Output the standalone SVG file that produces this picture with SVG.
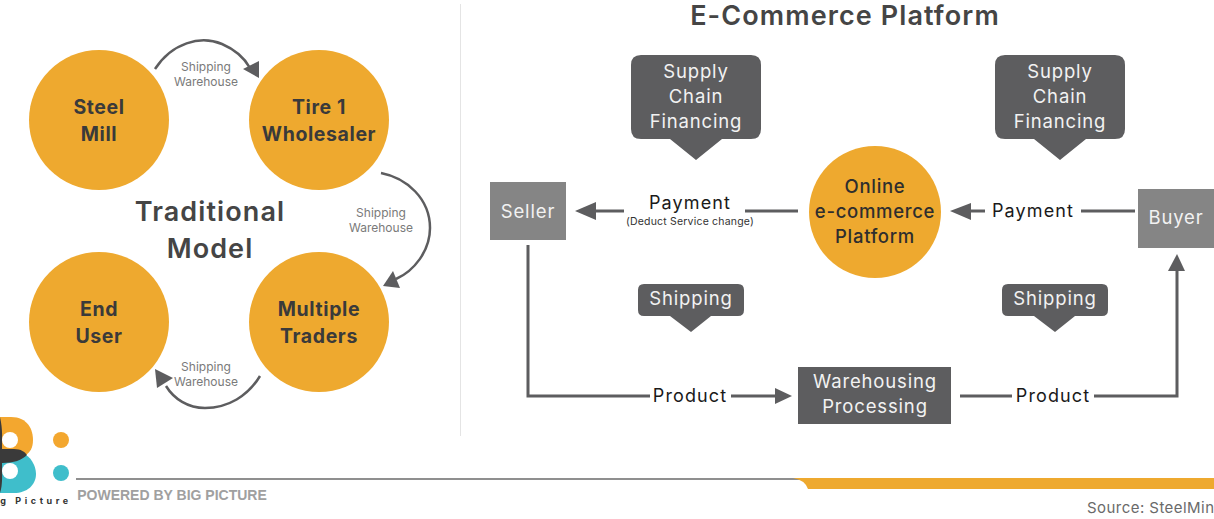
<svg xmlns="http://www.w3.org/2000/svg" width="1214" height="519" viewBox="0 0 1214 519">
<style>
text{font-family:Inter,"Open Sans","Liberation Sans",sans-serif;text-anchor:middle}
.o{fill:#eea92f}
.b{font-size:19.500px;font-weight:700;fill:#3a3a3a;letter-spacing:.6px}
.s{font-size:12px;fill:#7a7a7a}
.w{font-size:18.500px;fill:#f2f2f2;letter-spacing:.85px}
.k{font-size:18px;fill:#1a1a1a;letter-spacing:1.1px}
.t{font-size:27px;font-weight:600;fill:#454545;letter-spacing:1.1px}
.e{font-size:18.500px;font-weight:500;fill:#2e2e2e;letter-spacing:.7px}
.d{fill:#5d5d5f}
.l{fill:none;stroke:#5d5d5f;stroke-width:3}
.c{fill:none;stroke:#5d5d5f;stroke-width:2.500}
.a{fill:#5d5d5f}
</style>
<rect width="1214" height="519" fill="#fff"/>
<line x1="460.500" y1="4" x2="460.500" y2="436" stroke="#e4e4e4" stroke-width="1"/>
<g id="connectors">
<path class="c" d="M155 69C172 43 200 35 222 44C236 50 245 59 250 68"/>
<polygon class="a" points="259,61 259,78 243,69"/>
<path class="c" d="M381 173C407 178 430 199 430 228C430 251 414 271 396 279"/>
<polygon class="a" points="383,286 400,288 393,271"/>
<path class="c" d="M260 376C248 396 228 408 205 408C188 408 174 399 166 386"/>
<polygon class="a" points="155,369 173,378 157,388"/>
<path class="l" d="M798 211H745"/><path class="l" d="M624 211H592"/>
<polygon class="a" points="575,211 596,202 596,220"/>
<path class="l" d="M1135 211H1081"/><path class="l" d="M985 211H966"/>
<polygon class="a" points="950,211 971,203 971,220"/>
<path class="l" d="M528 245V396H650"/><path class="l" d="M731 396H775"/>
<polygon class="a" points="792,396 775,388 775,404"/>
<path class="l" d="M960 396H1012"/><path class="l" d="M1094 396H1177V270"/>
<polygon class="a" points="1177,254 1168,271 1185,271"/>
</g>
<g id="steel-mill"><circle class="o" cx="99" cy="120" r="70"/><text class="b" x="99" y="114">Steel</text><text class="b" x="99" y="141">Mill</text></g>
<g id="tire-1"><circle class="o" cx="319" cy="120" r="70"/><text class="b" x="319" y="114">Tire 1</text><text class="b" x="319" y="141">Wholesaler</text></g>
<g id="multiple-traders"><circle class="o" cx="319" cy="322" r="70"/><text class="b" x="319" y="316">Multiple</text><text class="b" x="319" y="343">Traders</text></g>
<g id="end-user"><circle class="o" cx="99" cy="322" r="70"/><text class="b" x="99" y="316">End</text><text class="b" x="99" y="343">User</text></g>
<g id="traditional-model"><text class="t" x="210" y="221">Traditional</text><text class="t" x="210" y="258">Model</text></g>
<g id="ship1"><text class="s" x="206" y="71">Shipping</text><text class="s" x="206" y="86">Warehouse</text></g>
<g id="ship2"><text class="s" x="381" y="217">Shipping</text><text class="s" x="381" y="232">Warehouse</text></g>
<g id="ship3"><text class="s" x="206" y="371">Shipping</text><text class="s" x="206" y="386">Warehouse</text></g>
<text class="t" x="845" y="25">E-Commerce Platform</text>
<g id="seller"><rect x="490" y="182" width="76" height="58" fill="#858585"/><text class="w" x="528" y="218">Seller</text></g>
<g id="buyer"><rect x="1138" y="189" width="76" height="59" fill="#858585"/><text class="w" x="1176" y="224">Buyer</text></g>
<g id="online"><circle class="o" cx="875" cy="212" r="66"/><text class="e" x="875" y="193">Online</text><text class="e" x="875" y="218">e-commerce</text><text class="e" x="875" y="243">Platform</text></g>
<g id="scf1"><path class="d" d="M641 55H751Q761 55 761 65V129Q761 139 751 139H722L696 160L670 139H641Q631 139 631 129V65Q631 55 641 55Z"/><text class="w" x="696" y="78">Supply</text><text class="w" x="696" y="103">Chain</text><text class="w" x="696" y="128">Financing</text></g>
<g id="scf2"><path class="d" d="M1005 55H1115Q1125 55 1125 65V129Q1125 139 1115 139H1086L1060 160L1034 139H1005Q995 139 995 129V65Q995 55 1005 55Z"/><text class="w" x="1060" y="78">Supply</text><text class="w" x="1060" y="103">Chain</text><text class="w" x="1060" y="128">Financing</text></g>
<g id="ship-a"><path class="d" d="M644 284H738Q744 284 744 290V310Q744 316 738 316H711L691 332L670 316H644Q638 316 638 310V290Q638 284 644 284Z"/><text class="w" x="691" y="305">Shipping</text></g>
<g id="ship-b"><path class="d" d="M1008 284H1102Q1108 284 1108 290V310Q1108 316 1102 316H1075L1055 332L1034 316H1008Q1002 316 1002 310V290Q1002 284 1008 284Z"/><text class="w" x="1055" y="305">Shipping</text></g>
<g id="warehousing"><rect class="d" x="798" y="367" width="153" height="57"/><text class="w" x="875" y="388">Warehousing</text><text class="w" x="875" y="413">Processing</text></g>
<g id="labels"><text class="k" x="690" y="209">Payment</text><text x="690" y="225" font-size="10.500" fill="#333" letter-spacing=".2">(Deduct Service change)</text><text class="k" x="1033" y="217">Payment</text><text class="k" x="690" y="402">Product</text><text class="k" x="1053" y="402">Product</text></g>
<g id="logo">
<path d="M0 417H11C28 417 33 430 33 440C33 448 30 452 26 455L0 462Z" fill="#f3a72f"/>
<path d="M0 462L22 453C31 456 36 466 36 474C36 485 27 493 14 493H0Z" fill="#3fbecb"/>
<path d="M0 417C3 430 2 440 2 449H14C21 449 25 452 27 455C22 460 14 463 2 463C2 472 3 485 0 493Z" fill="#3a3a3a"/>
<circle cx="10" cy="440" r="8" fill="#fff"/><circle cx="10" cy="471" r="8" fill="#fff"/>
<circle cx="61" cy="440" r="8" fill="#f3a72f"/><circle cx="61" cy="473" r="8" fill="#3fbecb"/>
<text x="36" y="504" font-size="9" font-weight="700" letter-spacing="3.600" fill="#333">g Picture</text>
</g>
<g id="footer">
<line x1="76" y1="479" x2="800" y2="479" stroke="#6a6a6a" stroke-width="1.500"/>
<path d="M793 478H1214V489H808Q805 480 793 478Z" fill="#eea92f"/>
<text x="172" y="500" font-size="14" font-weight="700" fill="#a0a0a0" style="font-family:'Liberation Sans',sans-serif">POWERED BY BIG PICTURE</text>
<text x="1087" y="513" font-size="15" fill="#6a6a6a" letter-spacing=".45" style="text-anchor:start">Source: SteelMin</text>
</g>
</svg>
